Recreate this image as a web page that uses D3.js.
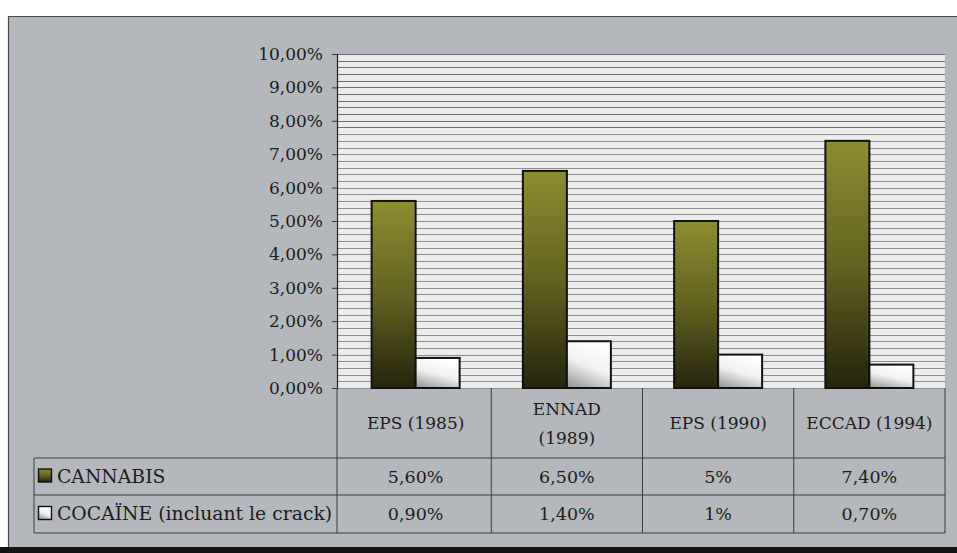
<!DOCTYPE html>
<html>
<head>
<meta charset="utf-8">
<script src="https://cdn.jsdelivr.net/npm/d3@7/dist/d3.min.js"></script>
<style>
  html, body { margin: 0; padding: 0; background: #ffffff; }
  svg { display: block; }
  text { font-family: "DejaVu Serif", "Liberation Serif", "Times New Roman", Tinos, serif; fill: #1c1c1c; }
</style>
</head>
<body>
<svg id="chart" width="957" height="553"></svg>
<script>
// Surveys (columns of the data table)
const categories = ["EPS (1985)", "ENNAD (1989)", "EPS (1990)", "ECCAD (1994)"];
const categoryLines = [["EPS (1985)"], ["ENNAD", "(1989)"], ["EPS (1990)"], ["ECCAD (1994)"]];
// Series
const seriesNames = ["CANNABIS", "COCAÏNE (incluant le crack)"];
const cannabis = [5.6, 6.5, 5.0, 7.4];
const cocaine = [0.9, 1.4, 1.0, 0.7];
const cannabisLabels = ["5,60%", "6,50%", "5%", "7,40%"];
const cocaineLabels = ["0,90%", "1,40%", "1%", "0,70%"];
// Y axis
const yTicks = [0, 1, 2, 3, 4, 5, 6, 7, 8, 9, 10];

const serif = '"DejaVu Serif", "Liberation Serif", serif';
const svg = d3.select("#chart");
const defs = svg.append("defs");

const gCan = defs.append("linearGradient").attr("id", "gCan")
  .attr("x1", 0).attr("y1", 0).attr("x2", 0).attr("y2", 1);
gCan.append("stop").attr("offset", "0%").attr("stop-color", "#8e8c32");
gCan.append("stop").attr("offset", "50%").attr("stop-color", "#636220");
gCan.append("stop").attr("offset", "100%").attr("stop-color", "#25250c");

const gCoc = defs.append("linearGradient").attr("id", "gCoc")
  .attr("x1", 0.6).attr("y1", 0).attr("x2", 0.2).attr("y2", 1);
gCoc.append("stop").attr("offset", "0%").attr("stop-color", "#ffffff");
gCoc.append("stop").attr("offset", "50%").attr("stop-color", "#f0f0f0");
gCoc.append("stop").attr("offset", "100%").attr("stop-color", "#9c9c9c");

// Page frame
svg.append("rect").attr("x", 8).attr("y", 16).attr("width", 949).attr("height", 531)
  .attr("fill", "#b4b8bc");
svg.append("path").attr("d", "M8.5,547 V16.5 H957")
  .attr("fill", "none").attr("stroke", "#4a4a4a").attr("stroke-width", 1.2);
svg.append("rect").attr("x", 0).attr("y", 547).attr("width", 957).attr("height", 6)
  .attr("fill", "#141414");

// Plot geometry
const plotLeft = 337, plotRight = 945, plotTop = 54, plotBottom = 388;
const x = d3.scaleBand().domain(categories).range([340, plotRight]);
const inner = d3.scaleBand().domain(seriesNames).range([0, 88]).paddingInner(0);
const y = d3.scaleLinear().domain([0, 10]).range([plotBottom, plotTop]);

// Plot background with dense horizontal rules
svg.append("rect").attr("x", plotLeft).attr("y", plotTop)
  .attr("width", plotRight - plotLeft).attr("height", plotBottom - plotTop)
  .attr("fill", "#ececec");
const minor = d3.range(0, 10.001, 0.2);
svg.append("g").selectAll("line").data(minor).join("line")
  .attr("x1", plotLeft).attr("x2", plotRight)
  .attr("y1", d => Math.round(y(d)) + 0.5).attr("y2", d => Math.round(y(d)) + 0.5)
  .attr("stroke", d => d > 7.7 ? "#6e6e6e" : "#8e8e8e")
  .attr("stroke-width", 1);

// Bars
const groups = svg.append("g").selectAll("g").data(categories).join("g")
  .attr("transform", d => `translate(${x(d) + (x.bandwidth() - 88) / 2},0)`);
groups.append("rect")
  .attr("x", inner(seriesNames[0]))
  .attr("y", (d, i) => y(cannabis[i]))
  .attr("width", inner.bandwidth())
  .attr("height", (d, i) => y(0) - y(cannabis[i]))
  .attr("fill", "url(#gCan)").attr("stroke", "#111").attr("stroke-width", 2);
groups.append("rect")
  .attr("x", inner(seriesNames[1]))
  .attr("y", (d, i) => y(cocaine[i]))
  .attr("width", inner.bandwidth())
  .attr("height", (d, i) => y(0) - y(cocaine[i]))
  .attr("fill", "url(#gCoc)").attr("stroke", "#111").attr("stroke-width", 2);

// Y axis
const yAxis = d3.axisLeft(y).tickValues(yTicks).tickSize(5).tickPadding(9)
  .tickFormat(d => d3.format(".2f")(d).replace(".", ",") + "%");
const ya = svg.append("g").attr("transform", `translate(${plotLeft},0)`).call(yAxis);
ya.attr("font-family", serif).attr("font-size", 17);
ya.select(".domain").attr("stroke", "#222").attr("stroke-width", 1.2);
ya.selectAll(".tick line").attr("stroke", "#333");
ya.selectAll(".tick text").attr("fill", "#1c1c1c");

// Data table
const tLeft = 34, hdrTop = plotBottom, r1 = 458, r2 = 495, r3 = 533;
const colRule = (d, i) => i === 0 ? plotLeft : (d === "end" ? plotRight : x(d));
const tbl = svg.append("g").attr("stroke", "#3a3a3a").attr("stroke-width", 1).attr("fill", "none");
tbl.selectAll("line.v").data(categories.concat(["end"])).join("line").attr("class", "v")
  .attr("x1", colRule).attr("x2", colRule)
  .attr("y1", hdrTop).attr("y2", r3);
[r1, r2, r3].forEach(ry => {
  tbl.append("line").attr("x1", tLeft).attr("x2", plotRight).attr("y1", ry).attr("y2", ry);
});
tbl.append("line").attr("x1", tLeft).attr("x2", tLeft).attr("y1", r1).attr("y2", r3);

// Category headers
const hdr = svg.append("g").selectAll("text").data(categories).join("text")
  .attr("text-anchor", "middle").attr("font-size", 17);
hdr.each(function (d, i) {
  const lines = categoryLines[i];
  const cx = x(d) + x.bandwidth() / 2;
  const mid = (hdrTop + r1) / 2;
  const lh = 29;
  lines.forEach((s, k) => {
    d3.select(this).append("tspan").attr("x", cx)
      .attr("y", mid + 6 + (k - (lines.length - 1) / 2) * lh).text(s);
  });
});

// Value rows with legend keys
const rows = [
  { name: seriesNames[0], labels: cannabisLabels, rTop: r1, rBot: r2, fill: "url(#gCan)" },
  { name: seriesNames[1], labels: cocaineLabels, rTop: r2, rBot: r3, fill: "url(#gCoc)" }
];
rows.forEach(r => {
  const cy = (r.rTop + r.rBot) / 2 + 6;
  svg.append("g").selectAll("text").data(categories).join("text")
    .attr("x", d => x(d) + x.bandwidth() / 2).attr("y", cy)
    .attr("text-anchor", "middle").attr("font-size", 17.5)
    .text((d, i) => r.labels[i]);
  svg.append("rect").attr("x", tLeft + 4.5).attr("y", cy - 13.5).attr("width", 13).attr("height", 13)
    .attr("fill", r.fill).attr("stroke", "#111").attr("stroke-width", 1.4);
  svg.append("text").attr("x", tLeft + 23).attr("y", cy).attr("font-size", 18.8)
    .text(r.name);
});
</script>
</body>
</html>
